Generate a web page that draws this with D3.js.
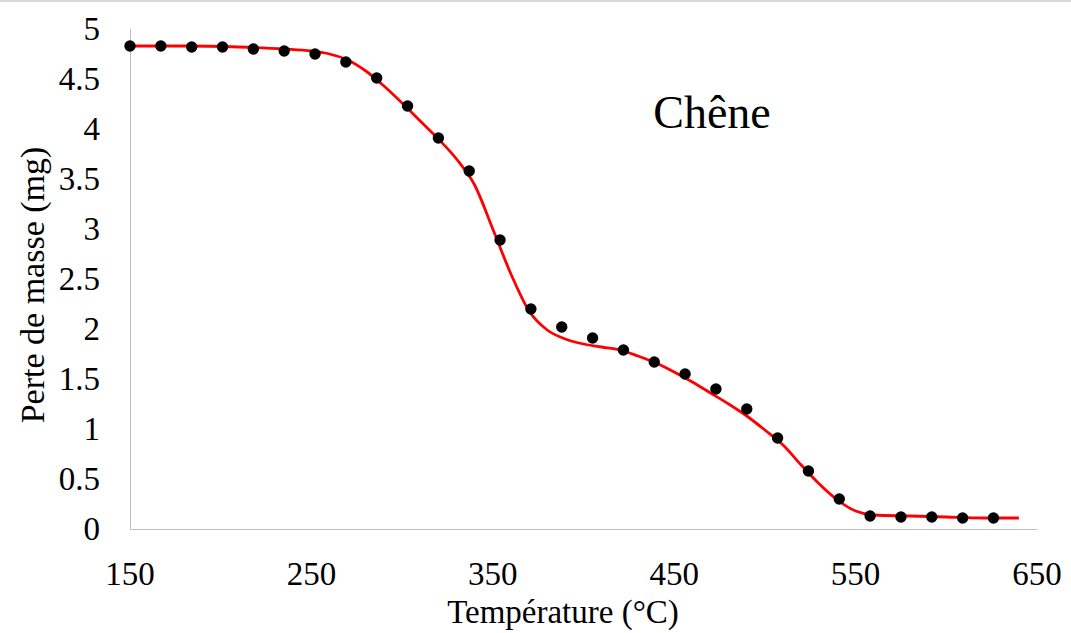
<!DOCTYPE html>
<html>
<head>
<meta charset="utf-8">
<script src="https://cdn.jsdelivr.net/npm/d3@7"></script>
<style>
  body { margin: 0; background: #fff; }
  text { font-family: "Liberation Serif", "Times New Roman", serif; fill: #000; }
</style>
</head>
<body>
<svg id="chart" width="1071" height="633"></svg>
<script>
// measured points (temperature °C, mass loss mg)
var pointTemps = [150, 167, 184, 201, 218, 235, 252, 269, 286, 303, 320, 337, 354, 371,
  388, 405, 422, 439, 456, 473, 490, 507, 524, 541, 558, 575, 592, 609, 626];
var pointMass = [4.83, 4.83, 4.82, 4.82, 4.80, 4.78, 4.75, 4.67, 4.51, 4.23, 3.91, 3.58, 2.89, 2.20,
  2.02, 1.91, 1.79, 1.67, 1.55, 1.40, 1.20, 0.91, 0.58, 0.30, 0.13, 0.12, 0.12, 0.11, 0.11];

// fitted curve
var curveTemps = [150, 180, 210, 235, 250, 260, 270, 280, 290, 300, 310, 320, 330, 340, 350, 360,
  370, 380, 390, 400, 410, 420, 430, 440, 450, 460, 470, 480, 490, 500, 510, 520, 530, 540,
  550, 560, 580, 600, 620, 640];
var curveMass = [4.83, 4.83, 4.82, 4.80, 4.78, 4.75, 4.69, 4.58, 4.43, 4.26, 4.08, 3.90, 3.70, 3.44,
  3.00, 2.55, 2.18, 1.99, 1.90, 1.85, 1.82, 1.79, 1.73, 1.66, 1.57, 1.47, 1.36, 1.25, 1.13, 0.99,
  0.84, 0.64, 0.45, 0.29, 0.18, 0.14, 0.13, 0.12, 0.11, 0.11];

var xTicks = [150, 250, 350, 450, 550, 650];
var yTicks = [0, 0.5, 1, 1.5, 2, 2.5, 3, 3.5, 4, 4.5, 5];

var svg = d3.select("#chart");

// faint border at the top
svg.append("line")
  .attr("x1", 0).attr("x2", 1071)
  .attr("y1", 1).attr("y2", 1)
  .attr("stroke", "#d9d9d9")
  .attr("stroke-width", 2);

var x = d3.scaleLinear().domain([150, 650]).range([130, 1037]);
var y = d3.scaleLinear().domain([0, 5]).range([529, 29]);

// axis lines
svg.append("line")
  .attr("x1", x(150)).attr("x2", x(650))
  .attr("y1", y(0) + 0.5).attr("y2", y(0) + 0.5)
  .attr("stroke", "#bfbfbf");
svg.append("line")
  .attr("x1", x(150) + 0.5).attr("x2", x(150) + 0.5)
  .attr("y1", y(0)).attr("y2", y(5))
  .attr("stroke", "#bfbfbf");

// tick labels
svg.append("g").selectAll("text")
  .data(yTicks)
  .enter()
  .append("text")
  .attr("x", 100)
  .attr("y", d => y(d) + 11)
  .attr("text-anchor", "end")
  .attr("font-size", 33)
  .text(d => d);

svg.append("g").selectAll("text")
  .data(xTicks)
  .enter()
  .append("text")
  .attr("x", d => x(d))
  .attr("y", 585)
  .attr("text-anchor", "middle")
  .attr("font-size", 33)
  .text(d => d);

// axis titles
svg.append("text")
  .attr("x", 563)
  .attr("y", 623)
  .attr("text-anchor", "middle")
  .attr("font-size", 33)
  .text("Température (°C)");

svg.append("text")
  .attr("transform", "translate(44,285) rotate(-90)")
  .attr("text-anchor", "middle")
  .attr("font-size", 34)
  .text("Perte de masse (mg)");

svg.append("text")
  .attr("x", 712)
  .attr("y", 128)
  .attr("text-anchor", "middle")
  .attr("font-size", 46)
  .text("Chêne");

// fitted curve
var line = d3.line()
  .x(d => x(d[0]))
  .y(d => y(d[1]))
  .curve(d3.curveMonotoneX);

svg.append("path")
  .datum(d3.zip(curveTemps, curveMass))
  .attr("fill", "none")
  .attr("stroke", "#ff0000")
  .attr("stroke-width", 2.8)
  .attr("d", line);

// points
svg.append("g").selectAll("circle")
  .data(d3.zip(pointTemps, pointMass))
  .enter()
  .append("circle")
  .attr("cx", d => x(d[0]))
  .attr("cy", d => y(d[1]))
  .attr("r", 5.7)
  .attr("fill", "#000");
</script>
</body>
</html>
